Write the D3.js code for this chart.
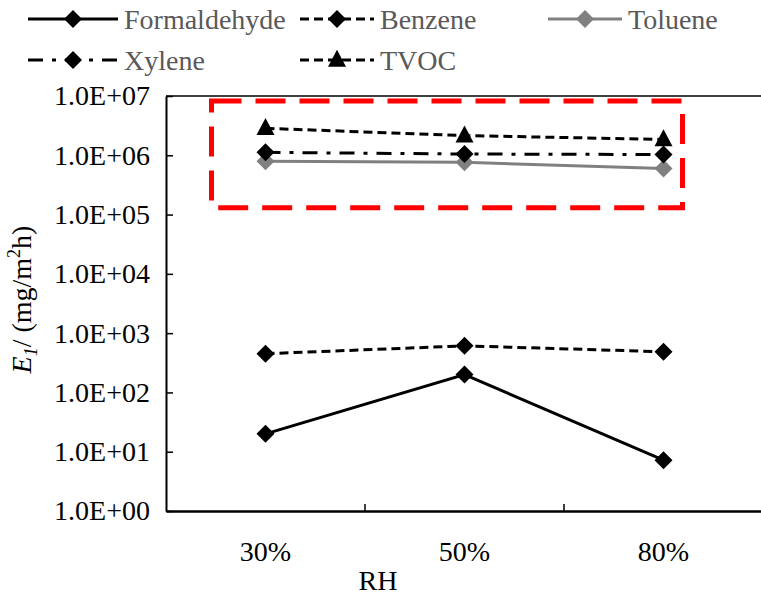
<!DOCTYPE html>
<html>
<head>
<meta charset="utf-8">
<script src="https://cdn.jsdelivr.net/npm/d3@7"></script>
<style>
  html, body { margin: 0; padding: 0; background: #fff; }
  svg, svg text { font-family: "Liberation Serif", "Times New Roman", Tinos, "DejaVu Serif", serif !important; }
</style>
</head>
<body>
<svg id="chart" width="761" height="596"></svg>
<script>
// Relative humidity levels
const categories = ["30%", "50%", "80%"];

// Emission rates E1 (mg/m²h) per compound
const formaldehyde = [20, 200, 7.2];
const benzene = [450, 610, 485];
const toluene = [790000, 760000, 600000];
const xylene = [1.12e6, 1.05e6, 1.03e6];
const tvoc = [2.85e6, 2.15e6, 1.85e6];

// Log axis ticks
const yTicks = [1e0, 1e1, 1e2, 1e3, 1e4, 1e5, 1e6, 1e7];
const yTickLabels = ["1.0E+00", "1.0E+01", "1.0E+02", "1.0E+03", "1.0E+04", "1.0E+05", "1.0E+06", "1.0E+07"];

// Highlight box around the VOC group (value span)
const highlightLow = 1.3e5;
const highlightHigh = 8.2e6;

const series = [
  { name: "Formaldehyde", values: formaldehyde, color: "#000", dash: null, marker: "diamond" },
  { name: "Benzene", values: benzene, color: "#000", dash: "9,5", marker: "diamond" },
  { name: "Toluene", values: toluene, color: "#808080", dash: null, marker: "diamond" },
  { name: "Xylene", values: xylene, color: "#000", dash: "15,9,4,9", marker: "diamond" },
  { name: "TVOC", values: tvoc, color: "#000", dash: "9,5", marker: "triangle" }
];

const svg = d3.select("#chart");
const plotLeft = 166, plotTop = 96, plotBottom = 511, plotRight = 763;

const x = d3.scaleBand().domain(categories).range([plotLeft, plotRight]).padding(0);
const y = d3.scaleLog().domain([1, 1e7]).range([plotBottom, plotTop]);
const cx = c => x(c) + x.bandwidth() / 2;

const fontSize = 28;

// Top border line
svg.append("line")
  .attr("x1", plotLeft).attr("x2", 761)
  .attr("y1", y(1e7)).attr("y2", y(1e7))
  .attr("stroke", "#000").attr("stroke-width", 1.5);

// Y axis
const yAxis = d3.axisLeft(y)
  .tickValues(yTicks)
  .tickFormat((d, i) => yTickLabels[i])
  .tickSizeInner(-7)
  .tickSizeOuter(0)
  .tickPadding(16);
const gy = svg.append("g").attr("transform", `translate(${plotLeft},0)`).call(yAxis);
gy.attr("font-family", null);
gy.select(".domain").attr("stroke", "#000").attr("stroke-width", 2);
gy.selectAll(".tick line").attr("stroke", "#000").attr("stroke-width", 1.5);
gy.selectAll(".tick text")
  .attr("font-size", fontSize)
  .attr("fill", "#000");

// X axis: baseline with labels at band centres and ticks at band boundaries
const xAxis = d3.axisBottom(x).tickSize(0).tickPadding(30);
const gx = svg.append("g").attr("transform", `translate(0,${plotBottom})`).call(xAxis);
gx.attr("font-family", null);
gx.select(".domain").attr("stroke", "#000").attr("stroke-width", 2.5);
gx.selectAll(".tick text")
  .attr("font-size", fontSize)
  .attr("fill", "#000");
gx.selectAll(".sep")
  .data(categories.slice(0, -1))
  .enter().append("line")
  .attr("class", "sep")
  .attr("x1", d => x(d) + x.bandwidth()).attr("x2", d => x(d) + x.bandwidth())
  .attr("y1", 0).attr("y2", -7)
  .attr("stroke", "#000").attr("stroke-width", 1.5);

// Axis titles
svg.append("text")
  .attr("x", 378).attr("y", 590)
  .attr("text-anchor", "middle")
  .attr("font-size", fontSize)
  .text("RH");

const yTitle = svg.append("text")
  .attr("transform", `translate(31,${(plotTop + plotBottom) / 2 - 4}) rotate(-90)`)
  .attr("text-anchor", "middle")
  .attr("font-size", fontSize);
yTitle.append("tspan").attr("font-style", "italic").text("E");
yTitle.append("tspan").attr("font-style", "italic").attr("font-size", 18).attr("dy", 6).text("1");
yTitle.append("tspan").attr("dy", -6).text("/ (mg/m");
yTitle.append("tspan").attr("font-size", 18).attr("dy", -11).text("2");
yTitle.append("tspan").attr("dy", 11).text("h)");

// Highlight box
const boxLeft = cx(categories[0]) - 54;
const boxRight = cx(categories[categories.length - 1]) + 19;
svg.append("rect")
  .attr("x", boxLeft)
  .attr("y", y(highlightHigh))
  .attr("width", boxRight - boxLeft)
  .attr("height", y(highlightLow) - y(highlightHigh))
  .attr("fill", "none")
  .attr("stroke", "#ff0000")
  .attr("stroke-width", 5)
  .attr("stroke-dasharray", "30,14");

// Marker drawing helper
function drawMarker(g, type, px, py, color) {
  if (type === "diamond") {
    const r = 9;
    g.append("path")
      .attr("d", `M${px},${py - r}L${px + r},${py}L${px},${py + r}L${px - r},${py}Z`)
      .attr("fill", color);
  } else {
    const w = 9, h = 17;
    g.append("path")
      .attr("d", `M${px},${py - h * 0.6}L${px + w},${py + h * 0.4}L${px - w},${py + h * 0.4}Z`)
      .attr("fill", color);
  }
}

// Series lines and markers
const line = d3.line().x((d, i) => cx(categories[i])).y(d => y(d));
series.forEach(s => {
  const g = svg.append("g");
  g.append("path")
    .attr("d", line(s.values))
    .attr("fill", "none")
    .attr("stroke", s.color)
    .attr("stroke-width", 3)
    .attr("stroke-dasharray", s.dash);
  s.values.forEach((v, i) => drawMarker(g, s.marker, cx(categories[i]), y(v), s.color));
});

// Legend
const legendPos = [
  { x: 28, y: 19 }, { x: 300, y: 19 }, { x: 548, y: 19 },
  { x: 28, y: 60 }, { x: 300, y: 60 }
];
series.forEach((s, i) => {
  const p = legendPos[i];
  const g = svg.append("g").attr("transform", `translate(${p.x},${p.y})`);
  const len = i === 0 || i === 3 ? 90 : 74;
  g.append("line")
    .attr("x1", 0).attr("x2", len)
    .attr("y1", 0).attr("y2", 0)
    .attr("stroke", s.color)
    .attr("stroke-width", 3)
    .attr("stroke-dasharray", s.dash);
  drawMarker(g, s.marker, len / 2, 0, s.color);
  g.append("text")
    .attr("x", len + 6).attr("y", 0)
    .attr("dy", "0.35em")
    .attr("font-size", fontSize)
    .attr("fill", "#595959")
    .text(s.name);
});
</script>
</body>
</html>
